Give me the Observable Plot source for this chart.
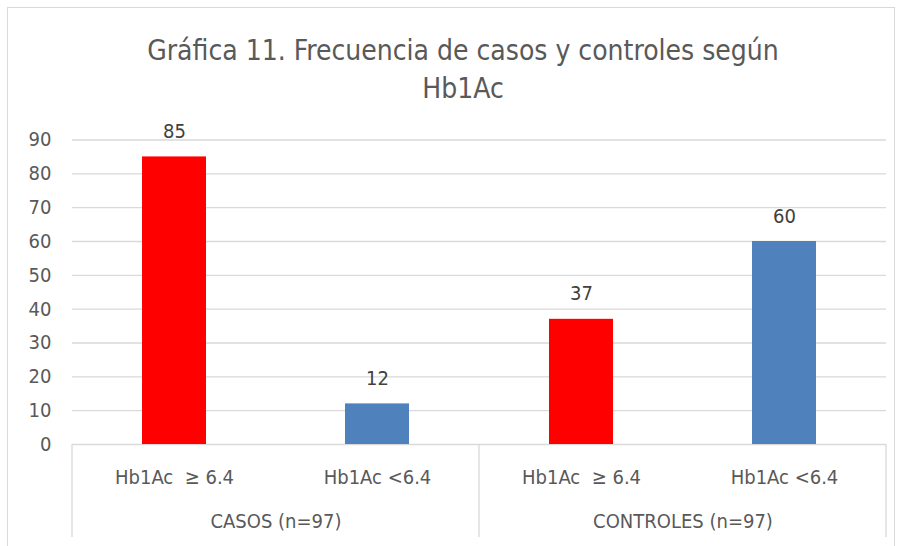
<!DOCTYPE html>
<html>
<head>
<meta charset="utf-8">
<script src="https://cdn.jsdelivr.net/npm/d3@7"></script>
<script src="https://cdn.jsdelivr.net/npm/@observablehq/plot@0.6"></script>
<style>
  html, body { margin: 0; padding: 0; background: #fff; }
  #wrap { position: relative; width: 902px; height: 546px; overflow: hidden; }
  #frame { position: absolute; left: 7px; top: 7px; width: 888px; height: 560px; border: 1px solid #d9d9d9; box-sizing: border-box; }
  #title { position: absolute; left: 0; top: 32px; width: 926px; text-align: center; font-family: "Liberation Sans Narrow", "DejaVu Sans Condensed", sans-serif; font-size: 28px; line-height: 38px; color: #595959; }
  #chart { position: absolute; left: 0; top: 0; }
</style>
</head>
<body>
<div id="wrap">
  <div id="frame"></div>
  <div id="title">Gráfica 11. Frecuencia de casos y controles según<br>Hb1Ac</div>
  <div id="chart"></div>
</div>
<script>
const groupNames = ["CASOS (n=97)", "CONTROLES (n=97)"];
const levelNames = ["Hb1Ac  ≥ 6.4", "Hb1Ac <6.4"];
const groups = ["CASOS (n=97)", "CASOS (n=97)", "CONTROLES (n=97)", "CONTROLES (n=97)"];
const levels = ["Hb1Ac  ≥ 6.4", "Hb1Ac <6.4", "Hb1Ac  ≥ 6.4", "Hb1Ac <6.4"];
const counts = [85, 12, 37, 60];
const yTicks = [0, 10, 20, 30, 40, 50, 60, 70, 80, 90];

const data = counts.map((c, i) => ({group: groups[i], level: levels[i], count: c}));
const font = '"Liberation Sans Narrow", "DejaVu Sans Condensed", sans-serif';

const chart = Plot.plot({
  width: 902,
  height: 546,
  marginLeft: 71,
  marginRight: 16,
  marginTop: 139.5,
  marginBottom: 102,
  style: {fontFamily: font, fontSize: "20px", color: "#595959", background: "transparent"},
  fx: {domain: groupNames, padding: 0, axis: null, label: null},
  x: {domain: levelNames, paddingInner: 0.686, paddingOuter: 0.343, axis: null, label: null},
  y: {domain: [0, 90], axis: null, label: null},
  color: {domain: levelNames, range: ["#FF0000", "#4F81BD"]},
  marks: [
    Plot.gridY(yTicks, {stroke: "#d9d9d9", strokeOpacity: 1, strokeWidth: 1.3}),
    Plot.axisY(yTicks, {tickSize: 0, tickPadding: 21, fontSize: 20, fill: "#595959", label: null}),
    Plot.barY(data, {fx: "group", x: "level", y: "count", fill: "level"}),
    Plot.text(data, {fx: "group", x: "level", y: "count", text: d => String(d.count), lineAnchor: "bottom", dy: -19, fill: "#404040", fontSize: 20}),
    Plot.axisX({tickSize: 0, tickPadding: 25, fontSize: 20, fill: "#595959", label: null}),
    Plot.axisFx({anchor: "bottom", tickSize: 0, tickPadding: 69, fontSize: 20, fill: "#595959", label: null})
  ]
});
document.getElementById("chart").appendChild(chart);

// group separators below the axis, placed through the chart's own scales
const fx = chart.scale("fx");
const y = chart.scale("y");
const y0 = y.apply(0);
const bounds = groupNames.map(g => fx.apply(g)).concat([fx.apply(groupNames[groupNames.length - 1]) + fx.bandwidth]);
d3.select(chart).append("g")
  .attr("stroke", "#d9d9d9").attr("stroke-width", 1.3)
  .selectAll("line").data(bounds).join("line")
  .attr("x1", d => d).attr("x2", d => d)
  .attr("y1", y0).attr("y2", y0 + 93);
</script>
</body>
</html>
